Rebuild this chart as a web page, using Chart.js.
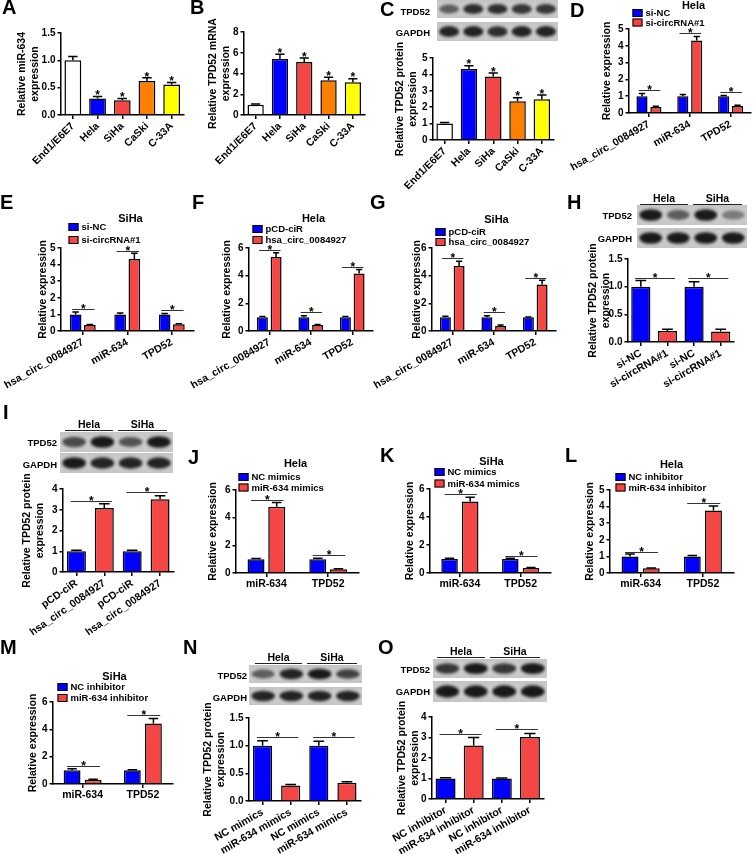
<!DOCTYPE html>
<html>
<head>
<meta charset="utf-8">
<script src="https://cdn.jsdelivr.net/npm/chart.js@4.4.0/dist/chart.umd.min.js"></script>
<style>
  body { margin: 0; background: #fff; }
  #fig { position: relative; width: 753px; height: 854px; overflow: hidden;
         font-family: "Liberation Sans", Arial, sans-serif; font-weight: bold; color: #000; }
  #fig canvas { position: absolute; }
  .lt { position: absolute; font-size: 20px; line-height: 20px; }
  .lb { position: absolute; width: 60px; font-size: 9.5px; text-align: right; transform: translateY(-50%); }
  .hd { position: absolute; font-size: 10.5px; transform: translate(-50%, -50%); }
  .ln { position: absolute; height: 0; border-top: 1px solid #222; }
</style>
</head>
<body>
<div id="fig"></div>
<script>
// ---- categories / labels ----
const cellLines = ['End1/E6E7', 'Hela', 'SiHa', 'CaSki', 'C-33A'];
const genes3 = ['hsa_circ_0084927', 'miR-634', 'TPD52'];
const genes2 = ['miR-634', 'TPD52'];
const siLabels = ['si-NC', 'si-circRNA#1', 'si-NC', 'si-circRNA#1'];
const ciLabels = ['pCD-ciR', 'hsa_circ_0084927', 'pCD-ciR', 'hsa_circ_0084927'];
const mimLabels = ['NC mimics', 'miR-634 mimics', 'NC mimics', 'miR-634 mimics'];
const inhLabels = ['NC inhibitor', 'miR-634 inhibitor', 'NC inhibitor', 'miR-634 inhibitor'];

// ---- values (mean / SD) ----
const aMean = [1.0, 0.30, 0.27, 0.62, 0.56], aErr = [0.07, 0.04, 0.03, 0.06, 0.035];
const bMean = [1.0, 5.4, 5.1, 3.35, 3.15],   bErr = [0.05, 0.45, 0.4, 0.28, 0.35];
const cMean = [1.0, 4.33, 3.87, 2.36, 2.48], cErr = [0.06, 0.2, 0.22, 0.22, 0.26];
const cellStars = [false, true, true, true, true];

const dNC = [1.0, 1.0, 1.0],   dNCErr = [0.16, 0.1, 0.04];
const dSi = [0.36, 4.32, 0.42], dSiErr = [0.04, 0.24, 0.04];
const dLines = [1.37, 4.76, 1.25];

const eNC = [1.0, 1.0, 1.0],   eNCErr = [0.14, 0.08, 0.06];
const eSi = [0.36, 4.33, 0.4], eSiErr = [0.03, 0.36, 0.04];
const eLines = [1.33, 4.8, 1.27];

const fCiR = [1.0, 1.0, 1.0],   fCiRErr = [0.04, 0.1, 0.05];
const fCirc = [5.35, 0.43, 4.15], fCircErr = [0.3, 0.04, 0.3];
const fLines = [5.86, 1.37, 4.6];

const gCiR = [1.0, 1.0, 1.0],   gCiRErr = [0.06, 0.1, 0.02];
const gCirc = [4.7, 0.36, 3.36], gCircErr = [0.34, 0.07, 0.31];
const gLines = [5.3, 1.37, 3.8];

const hMean = [1.0, 0.2, 1.0, 0.19], hErr = [0.11, 0.03, 0.09, 0.04];
const hLines = [1.16, 1.16];
const iMean = [1.0, 3.08, 1.0, 3.51], iErr = [0.05, 0.21, 0.05, 0.16];
const iLines = [3.42, 3.86];

const jNC = [1.0, 1.0],   jNCErr = [0.05, 0.06];
const jMim = [4.79, 0.27], jMimErr = [0.31, 0.03];
const jLines = [5.28, 1.3];
const kNC = [1.0, 1.0],   kNCErr = [0.05, 0.05];
const kMim = [5.1, 0.36], kMimErr = [0.31, 0.03];
const kLines = [5.64, 1.23];
const lNC = [1.0, 1.0],   lNCErr = [0.14, 0.06];
const lInh = [0.28, 3.76], lInhErr = [0.02, 0.28];
const lLines = [1.27, 4.2];
const mNC = [1.0, 1.0],   mNCErr = [0.12, 0.04];
const mInh = [0.31, 4.43], mInhErr = [0.03, 0.36];
const mLines = [1.32, 5.05];

const nMean = [1.0, 0.28, 1.0, 0.33], nErr = [0.09, 0.02, 0.08, 0.02];
const nLines = [1.16, 1.16];
const oMean = [1.0, 2.61, 1.0, 3.03], oErr = [0.04, 0.39, 0.03, 0.16];
const oLines = [3.17, 3.41];

const BLUE = '#0000ff', RED = '#f54646';
const cellColors = ['#ffffff', BLUE, RED, '#ff8000', '#ffff00'];
const pairColors = [BLUE, RED, BLUE, RED];

const FONT = '"Liberation Sans", Arial, sans-serif';
Chart.defaults.font.family = FONT;
Chart.defaults.font.weight = 'bold';
Chart.defaults.color = '#000';

const fig = document.getElementById('fig');

function star(ctx, x, yBottom) {
  ctx.font = 'bold 12px ' + FONT;
  ctx.textAlign = 'center';
  ctx.textBaseline = 'alphabetic';
  ctx.fillStyle = '#000';
  ctx.fillText('*', x, yBottom + 4.7);
}

// error bars, significance lines, legend and small title
const extras = {
  id: 'extras',
  afterDatasetsDraw(chart, args, o) {
    const ctx = chart.ctx, ys = chart.scales.y;
    ctx.save();
    chart.data.datasets.forEach((ds, i) => {
      chart.getDatasetMeta(i).data.forEach((bar, j) => {
        const top = ys.getPixelForValue(ds.data[j] + ds.err[j]);
        const cw = bar.width * 0.28;
        ctx.strokeStyle = '#000';
        ctx.lineWidth = 1.5;
        ctx.beginPath();
        ctx.moveTo(bar.x, bar.y);
        ctx.lineTo(bar.x, top);
        ctx.moveTo(bar.x - cw, top);
        ctx.lineTo(bar.x + cw, top);
        ctx.stroke();
        if (ds.star && ds.star[j]) star(ctx, bar.x, top - 2);
      });
    });
    (o.brackets || []).forEach(b => {
      const A = chart.getDatasetMeta(b.a[0]).data[b.a[1]];
      const B = chart.getDatasetMeta(b.b[0]).data[b.b[1]];
      const y = Math.round(ys.getPixelForValue(b.v)) + 0.5;
      const x1 = A.x - A.width * 0.3, x2 = B.x + B.width * 0.4;
      ctx.strokeStyle = '#333';
      ctx.lineWidth = 1;
      ctx.beginPath();
      ctx.moveTo(x1, y);
      ctx.lineTo(x2, y);
      ctx.stroke();
      star(ctx, (x1 + x2) / 2, y - 1.5);
    });
    ctx.restore();
  },
  afterDraw(chart, args, o) {
    const ctx = chart.ctx;
    ctx.save();
    if (o.legend) {
      const lg = o.legend;
      ctx.font = 'bold 9.5px ' + FONT;
      ctx.textBaseline = 'middle';
      ctx.textAlign = 'left';
      chart.data.datasets.forEach((ds, i) => {
        const x = lg.x - o.ox, y = lg.y - o.oy + i * lg.gap;
        ctx.fillStyle = ds.backgroundColor;
        ctx.fillRect(x, y, 10, 8);
        ctx.strokeStyle = '#000';
        ctx.lineWidth = 1;
        ctx.strokeRect(x + 0.5, y + 0.5, 9, 7);
        ctx.fillStyle = '#000';
        ctx.fillText(ds.label, x + 13, y + 4.5);
      });
    }
    if (o.head) {
      ctx.font = 'bold 11px ' + FONT;
      ctx.textAlign = 'center';
      ctx.textBaseline = 'middle';
      ctx.fillStyle = '#000';
      ctx.fillText(o.head.text, o.head.x - o.ox, o.head.y - o.oy);
    }
    ctx.restore();
  }
};

function groupBrackets(lines) {
  return lines.map((v, j) => ({ a: [0, j], b: [1, j], v }));
}
function pairBrackets(lines) {
  return lines.map((v, k) => ({ a: [0, 2 * k], b: [0, 2 * k + 1], v }));
}

function makePanel(p) {
  const lh = 13, padL = 60, padT = 40, padR = 15, xH = 95;
  const [L, T, R, B] = p.box;
  const scaleLeft = p.tx - lh / 2 - 1;
  const cl = scaleLeft - padL, ct = T - padT;
  const cv = document.createElement('canvas');
  cv.width = Math.round(R + padR - cl);
  cv.height = Math.round(B + xH - ct);
  cv.style.left = cl + 'px';
  cv.style.top = ct + 'px';
  fig.appendChild(cv);

  new Chart(cv, {
    type: 'bar',
    data: {
      labels: p.labels,
      datasets: p.datasets.map(d => ({
        label: d.label, data: d.data, err: d.err, star: d.star,
        backgroundColor: d.color, borderColor: '#000', borderWidth: 1.5,
        categoryPercentage: p.cat, barPercentage: p.bar
      }))
    },
    options: {
      responsive: false,
      animation: false,
      devicePixelRatio: 1,
      layout: { padding: { left: padL, top: padT, right: padR, bottom: 0 } },
      plugins: {
        legend: { display: false },
        tooltip: { enabled: false },
        extras: { ox: cl, oy: ct, legend: p.legend, head: p.head, brackets: p.brackets }
      },
      scales: {
        x: {
          afterFit: s => { s.height = xH; },
          border: { color: '#000', width: 1.5 },
          grid: { offset: false, drawOnChartArea: false, tickLength: 4, color: '#000', lineWidth: 1.5 },
          ticks: { autoSkip: false, minRotation: p.rot, maxRotation: p.rot, padding: 1,
                   font: { size: 10.5 }, color: '#000' }
        },
        y: {
          min: 0, max: p.max,
          afterFit: s => { s.width = L - scaleLeft; },
          border: { color: '#000', width: 1.5 },
          grid: { drawOnChartArea: false, tickLength: 3, color: '#000', lineWidth: 1.5 },
          ticks: { stepSize: p.step, padding: 2, font: { size: 10 }, color: '#000',
                   callback: v => v.toFixed(p.dec || 0) },
          title: { display: true, text: p.title, color: '#000',
                   font: { size: 10.5, lineHeight: 13 / 10.5 }, padding: { top: 1, bottom: 0 } }
        }
      }
    },
    plugins: [extras]
  });
}

const twoLineProtein = ['Relative TPD52 protein', 'expression'];

makePanel({ box: [60, 33, 183, 115], max: 1.5, step: 0.5, dec: 1, tx: 22,
  title: ['Relative miR-634', 'expression'], rot: 45, labels: cellLines, cat: 1, bar: 0.68,
  datasets: [{ label: 'A', data: aMean, err: aErr, star: cellStars, color: cellColors }] });
makePanel({ box: [243, 32, 364, 115], max: 8, step: 2, tx: 213,
  title: ['Relative TPD52 mRNA', 'expression'], rot: 45, labels: cellLines, cat: 1, bar: 0.67,
  datasets: [{ label: 'B', data: bMean, err: bErr, star: cellStars, color: cellColors }] });
makePanel({ box: [432, 58, 553, 140], max: 5, step: 1, tx: 400,
  title: twoLineProtein, rot: 45, labels: cellLines, cat: 1, bar: 0.68,
  datasets: [{ label: 'C', data: cMean, err: cErr, star: cellStars, color: cellColors }] });

makePanel({ box: [628, 29, 750, 113], max: 5, step: 1, tx: 607, title: 'Relative expression',
  rot: 30, labels: genes3, cat: 0.68, bar: 0.8,
  legend: { x: 632, y: 9, gap: 9.5 }, head: { text: 'Hela', x: 693, y: 6 }, brackets: groupBrackets(dLines),
  datasets: [{ label: 'si-NC', data: dNC, err: dNCErr, color: BLUE },
             { label: 'si-circRNA#1', data: dSi, err: dSiErr, color: RED }] });
makePanel({ box: [60, 248, 193, 331], max: 5, step: 1, tx: 43, title: 'Relative expression',
  rot: 30, labels: genes3, cat: 0.64, bar: 0.82,
  legend: { x: 68, y: 223, gap: 13 }, head: { text: 'SiHa', x: 130, y: 219 }, brackets: groupBrackets(eLines),
  datasets: [{ label: 'si-NC', data: eNC, err: eNCErr, color: BLUE },
             { label: 'si-circRNA#1', data: eSi, err: eSiErr, color: RED }] });
makePanel({ box: [248, 248, 372, 331], max: 6, step: 2, tx: 227, title: 'Relative expression',
  rot: 30, labels: genes3, cat: 0.66, bar: 0.8,
  legend: { x: 252, y: 225, gap: 11 }, head: { text: 'Hela', x: 313, y: 219 }, brackets: groupBrackets(fLines),
  datasets: [{ label: 'pCD-ciR', data: fCiR, err: fCiRErr, color: BLUE },
             { label: 'hsa_circ_0084927', data: fCirc, err: fCircErr, color: RED }] });
makePanel({ box: [431, 248, 555, 331], max: 6, step: 2, tx: 417, title: 'Relative expression',
  rot: 30, labels: genes3, cat: 0.66, bar: 0.8,
  legend: { x: 435, y: 228, gap: 10 }, head: { text: 'SiHa', x: 496, y: 220 }, brackets: groupBrackets(gLines),
  datasets: [{ label: 'pCD-ciR', data: gCiR, err: gCiRErr, color: BLUE },
             { label: 'hsa_circ_0084927', data: gCirc, err: gCircErr, color: RED }] });

makePanel({ box: [627, 259, 733, 342], max: 1.5, step: 0.5, dec: 1, tx: 593, title: twoLineProtein,
  rot: 30, labels: siLabels, cat: 1, bar: 0.72, brackets: pairBrackets(hLines),
  datasets: [{ label: 'H', data: hMean, err: hErr, color: pairColors }] });
makePanel({ box: [62, 489, 173, 572], max: 4, step: 1, tx: 27, title: twoLineProtein,
  rot: 35, labels: ciLabels, cat: 1, bar: 0.68, brackets: pairBrackets(iLines),
  datasets: [{ label: 'I', data: iMean, err: iErr, color: pairColors }] });

makePanel({ box: [235, 490, 358, 573], max: 6, step: 2, tx: 213, title: 'Relative expression',
  rot: 0, labels: genes2, cat: 0.67, bar: 0.82,
  legend: { x: 238, y: 473, gap: 10.5 }, head: { text: 'Hela', x: 295, y: 464 }, brackets: groupBrackets(jLines),
  datasets: [{ label: 'NC mimics', data: jNC, err: jNCErr, color: BLUE },
             { label: 'miR-634 mimics', data: jMim, err: jMimErr, color: RED }] });
makePanel({ box: [429, 489, 550, 573], max: 6, step: 2, tx: 410, title: 'Relative expression',
  rot: 0, labels: genes2, cat: 0.68, bar: 0.8,
  legend: { x: 434, y: 468, gap: 11.5 }, head: { text: 'SiHa', x: 491, y: 462 }, brackets: groupBrackets(kLines),
  datasets: [{ label: 'NC mimics', data: kNC, err: kNCErr, color: BLUE },
             { label: 'miR-634 mimics', data: kMim, err: kMimErr, color: RED }] });
makePanel({ box: [609, 490, 733, 573], max: 5, step: 1, tx: 590, title: 'Relative expression',
  rot: 0, labels: genes2, cat: 0.68, bar: 0.8,
  legend: { x: 615, y: 473, gap: 10.5 }, head: { text: 'Hela', x: 671, y: 465 }, brackets: groupBrackets(lLines),
  datasets: [{ label: 'NC inhibitor', data: lNC, err: lNCErr, color: BLUE },
             { label: 'miR-634 inhibitor', data: lInh, err: lInhErr, color: RED }] });
makePanel({ box: [52, 702, 172, 784], max: 6, step: 2, tx: 33, title: 'Relative expression',
  rot: 0, labels: genes2, cat: 0.7, bar: 0.8,
  legend: { x: 57, y: 683, gap: 11 }, head: { text: 'SiHa', x: 114, y: 677 }, brackets: groupBrackets(mLines),
  datasets: [{ label: 'NC inhibitor', data: mNC, err: mNCErr, color: BLUE },
             { label: 'miR-634 inhibitor', data: mInh, err: mInhErr, color: RED }] });

makePanel({ box: [248, 718, 360, 801], max: 1.5, step: 0.5, dec: 1, tx: 208, title: twoLineProtein,
  rot: 30, labels: mimLabels, cat: 1, bar: 0.68, brackets: pairBrackets(nLines),
  datasets: [{ label: 'N', data: nMean, err: nErr, color: pairColors }] });
makePanel({ box: [431, 717, 543, 799], max: 4, step: 1, tx: 402, title: twoLineProtein,
  rot: 30, labels: inhLabels, cat: 1, bar: 0.71, brackets: pairBrackets(oLines),
  datasets: [{ label: 'O', data: oMean, err: oErr, color: pairColors }] });

// ---- western blot strips (decoration) ----
const blots = [
  { x: 437, w: 121, rows: [[0, 18], [22, 41]], lx: 430, ly: [11, 32],
    bands: [[0.6, 0.85, 0.85, 0.8, 0.8], [0.9, 0.9, 0.85, 0.9, 0.9]] },
  { x: 637, w: 110, rows: [[205, 225], [228, 248]], lx: 632, ly: [215, 238],
    bands: [[0.95, 0.6, 0.95, 0.45], [0.95, 0.95, 0.95, 0.95]], head: { y: 204, l: [640, 688, 693, 742] } },
  { x: 60, w: 113, rows: [[432, 452], [453, 473]], lx: 57, ly: [442, 464],
    bands: [[0.7, 0.95, 0.65, 0.95], [0.95, 0.9, 0.9, 0.9]], head: { y: 430, l: [65, 113, 118, 167] } },
  { x: 249, w: 113, rows: [[665, 683], [687, 705]], lx: 247, ly: [675, 697],
    bands: [[0.6, 0.9, 0.95, 0.75], [0.9, 0.9, 0.9, 0.9]], head: { y: 663, l: [255, 302, 307, 357] } },
  { x: 433, w: 114, rows: [[659, 678], [681, 702]], lx: 430, ly: [669, 691],
    bands: [[0.8, 0.95, 0.8, 0.95], [0.95, 0.95, 0.95, 0.95]], head: { y: 657, l: [437, 485, 490, 540] } }
];
const blotNames = ['TPD52', 'GAPDH'];
const cellPair = ['Hela', 'SiHa'];

function addDiv(cls, text, css) {
  const d = document.createElement('div');
  d.className = cls;
  if (text) d.textContent = text;
  Object.assign(d.style, css);
  fig.appendChild(d);
  return d;
}

blots.forEach(b => {
  b.rows.forEach((r, k) => {
    const h = r[1] - r[0];
    const c = document.createElement('canvas');
    c.width = b.w; c.height = h;
    c.style.left = b.x + 'px'; c.style.top = r[0] + 'px';
    const g = c.getContext('2d');
    const bg = g.createLinearGradient(0, 0, 0, h);
    bg.addColorStop(0, '#c4c4c4'); bg.addColorStop(0.5, '#d2d2d2'); bg.addColorStop(1, '#c6c6c6');
    g.fillStyle = bg;
    g.fillRect(0, 0, b.w, h);
    const n = b.bands[k].length, lw = b.w / n;
    g.filter = 'blur(1.5px)';
    b.bands[k].forEach((a, i) => {
      g.fillStyle = 'rgba(15,15,15,' + a + ')';
      g.beginPath();
      g.ellipse(lw * (i + 0.5), h * 0.5, lw * 0.42, h * (0.16 + a * 0.14), 0, 0, Math.PI * 2);
      g.fill();
    });
    fig.appendChild(c);
    addDiv('lb', blotNames[k], { left: (b.lx - 60) + 'px', top: b.ly[k] + 'px' });
  });
  if (b.head) {
    const l = b.head.l;
    for (let q = 0; q < 2; q++) {
      addDiv('ln', '', { left: l[2 * q] + 'px', top: b.head.y + 'px', width: (l[2 * q + 1] - l[2 * q]) + 'px' });
      addDiv('hd', cellPair[q], { left: ((l[2 * q] + l[2 * q + 1]) / 2) + 'px', top: (b.head.y - 6) + 'px' });
    }
  }
});

// ---- panel letters ----
const letters = [['A', 2, 0], ['B', 190, 0], ['C', 380, 2], ['D', 570, 3], ['E', 0, 195], ['F', 192, 195],
  ['G', 370, 195], ['H', 567, 195], ['I', 3, 405], ['J', 188, 450], ['K', 380, 448], ['L', 565, 448],
  ['M', 0, 640], ['N', 183, 640], ['O', 378, 640]];
letters.forEach(([t, x, y]) => addDiv('lt', t, { left: x + 'px', top: (y - 3) + 'px' }));
</script>
</body>
</html>
